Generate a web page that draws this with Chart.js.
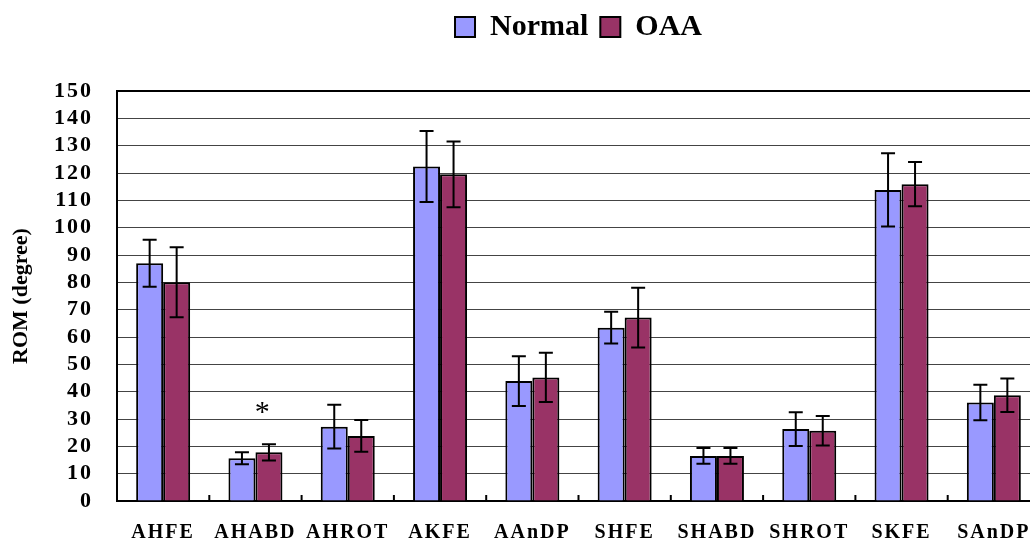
<!DOCTYPE html>
<html>
<head>
<meta charset="utf-8">
<script src="https://cdn.jsdelivr.net/npm/chart.js@4.4.1/dist/chart.umd.min.js"></script>
<style>
  html, body { margin: 0; padding: 0; background: #fff; overflow: hidden; }
  #wrap { width: 1160px; height: 540px; }
</style>
</head>
<body>
<div id="wrap"><canvas id="rom" width="1160" height="540"></canvas></div>
<script>
// range of motion, mean and SD per motion (degrees)
const motions = ['AHFE', 'AHABD', 'AHROT', 'AKFE', 'AAnDP', 'SHFE', 'SHABD', 'SHROT', 'SKFE', 'SAnDP'];
const normalMean = [87, 15.6, 27.2, 122.4, 43.9, 63.4, 16.5, 26.3, 113.8, 36];
const normalSD   = [8.6, 2.2, 8, 13, 9.1, 5.8, 2.9, 6.2, 13.4, 6.5];
const oaaMean    = [80, 17.8, 23.8, 119.5, 45.2, 67.1, 16.5, 25.7, 115.9, 38.7];
const oaaSD      = [12.8, 3, 5.8, 12, 9, 10.9, 2.9, 5.4, 8.1, 6.1];
const sigMarks   = ['', '*', '', '', '', '', '', '', '', ''];
const yMin = 0, yMax = 150, yStep = 10;

const serif = 'Liberation Serif, Times New Roman, serif';
const errors = [normalSD, oaaSD];

const errorBars = {
  id: 'errorBars',
  afterDatasetsDraw(chart) {
    const ctx = chart.ctx;
    const y = chart.scales.y, x = chart.scales.x;
    const area = chart.chartArea;
    ctx.save();
    ctx.strokeStyle = '#000';
    ctx.lineWidth = 2;
    chart.data.datasets.forEach((ds, di) => {
      chart.getDatasetMeta(di).data.forEach((bar, i) => {
        const hi = y.getPixelForValue(ds.data[i] + errors[di][i]);
        const lo = y.getPixelForValue(ds.data[i] - errors[di][i]);
        ctx.beginPath();
        ctx.moveTo(bar.x, hi); ctx.lineTo(bar.x, lo);
        ctx.moveTo(bar.x - 7, hi); ctx.lineTo(bar.x + 7, hi);
        ctx.moveTo(bar.x - 7, lo); ctx.lineTo(bar.x + 7, lo);
        ctx.stroke();
      });
    });
    // small ticks between categories on the x axis
    for (let i = 1; i < motions.length; i++) {
      const bx = (x.getPixelForValue(i - 1) + x.getPixelForValue(i)) / 2;
      ctx.beginPath();
      ctx.moveTo(bx, area.bottom);
      ctx.lineTo(bx, area.bottom - 6);
      ctx.stroke();
    }
    // significance marks above the OAA bar
    ctx.fillStyle = '#000';
    ctx.font = '30px ' + serif;
    ctx.textAlign = 'center';
    ctx.textBaseline = 'middle';
    const oaaMeta = chart.getDatasetMeta(1);
    sigMarks.forEach((m, i) => {
      if (!m) return;
      const bar = oaaMeta.data[i];
      const top = Math.max(normalMean[i] + normalSD[i], oaaMean[i] + oaaSD[i]);
      ctx.fillText(m, bar.x - bar.width / 4, y.getPixelForValue(top + 13) + 5);
    });
    ctx.restore();
    // axis labels are drawn after this (ticks.z = 1), spaced like the original
    ctx.letterSpacing = '2px';
  },
  afterDraw(chart) {
    chart.ctx.letterSpacing = '0px';
  }
};

new Chart(document.getElementById('rom'), {
  type: 'bar',
  data: {
    labels: motions,
    datasets: [
      {
        label: 'Normal',
        data: normalMean,
        backgroundColor: '#9999FF',
        borderColor: '#000',
        borderWidth: 2
      },
      {
        label: 'OAA',
        data: oaaMean,
        backgroundColor: '#993366',
        borderColor: '#000',
        borderWidth: 2
      }
    ]
  },
  options: {
    responsive: false,
    animation: false,
    devicePixelRatio: 1,
    layout: { padding: { left: 0, right: 120, top: 0, bottom: 0 } },
    datasets: { bar: { barPercentage: 1, categoryPercentage: 0.585 } },
    plugins: {
      tooltip: { enabled: false },
      legend: {
        position: 'top',
        fullSize: false,
        labels: {
          color: '#000',
          font: { family: serif, size: 30, weight: 'bold' },
          boxWidth: 20,
          boxHeight: 20,
          padding: 12
        }
      },
      // empty spacer between legend and plot area
      subtitle: {
        display: true,
        text: '',
        weight: 0,
        font: { size: 1, lineHeight: 1 },
        padding: { top: 38, bottom: 0 }
      }
    },
    scales: {
      x: {
        grid: { display: false },
        border: { display: true, color: '#000', width: 2 },
        ticks: {
          z: 1,
          color: '#000',
          font: { family: serif, size: 20, weight: 'bold' },
          padding: 12,
          maxRotation: 0,
          autoSkip: false
        },
        afterFit(scale) { scale.height = 39; }
      },
      y: {
        min: yMin,
        max: yMax,
        grid: {
          color: (c) => c.tick && c.tick.value === yMax ? '#000' : '#444',
          lineWidth: (c) => c.tick && c.tick.value === yMax ? 2 : 1,
          drawTicks: false
        },
        border: { display: true, color: '#000', width: 2 },
        ticks: {
          z: 1,
          stepSize: yStep,
          autoSkip: false,
          color: '#000',
          font: { family: serif, size: 22, weight: 'bold' },
          padding: 24
        },
        title: {
          display: true,
          text: 'ROM (degree)',
          color: '#000',
          font: { family: serif, size: 22, weight: 'bold' },
          padding: { top: 8, bottom: 0 }
        },
        afterFit(scale) { scale.width = 117; }
      }
    }
  },
  plugins: [errorBars]
});
</script>
</body>
</html>
